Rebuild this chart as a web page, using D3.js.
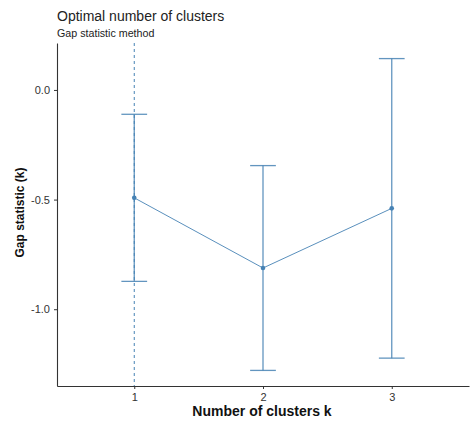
<!DOCTYPE html>
<html>
<head>
<meta charset="utf-8">
<script src="https://cdn.jsdelivr.net/npm/d3@7"></script>
<style>
  html, body { margin: 0; padding: 0; background: #fff; }
  text { font-family: "Liberation Sans", Arial, sans-serif; }
</style>
</head>
<body>
<svg id="chart" width="471" height="423"></svg>
<script>
// Gap statistic per number of clusters, with standard errors
const clusters = [1, 2, 3];
const gap = [-0.492, -0.812, -0.540];
const gapSE = [0.381, 0.467, 0.683];
const optimalK = 1;
const yTicks = [0.0, -0.5, -1.0];

const color = "#4682B4";
const svg = d3.select("#chart");
const m = { left: 57, right: 469, top: 43, bottom: 386 };

const lo = d3.min(gap.map((g, i) => g - gapSE[i]));
const hi = d3.max(gap.map((g, i) => g + gapSE[i]));
const padY = (hi - lo) * 0.05;

const x = d3.scaleLinear().domain([0.4, 3.6]).range([m.left, m.right]);
const y = d3.scaleLinear().domain([lo - padY, hi + padY]).range([m.bottom, m.top]);

// plain hyphen for negative tick labels
const fmt1 = d3.formatLocale({ decimal: ".", thousands: ",", grouping: [3], currency: ["", ""], minus: "-" }).format(".1f");

// vertical marker at the optimal k
svg.append("line")
  .attr("x1", x(optimalK)).attr("x2", x(optimalK))
  .attr("y1", m.top).attr("y2", m.bottom)
  .attr("stroke", color).attr("stroke-width", 1)
  .attr("stroke-dasharray", "3,3");

// error bars
const capW = 0.2 * (x(1) - x(0)) / 2;
const eb = svg.append("g").attr("stroke", color).attr("stroke-opacity", 0.85)
  .attr("stroke-width", 1.3).attr("fill", "none");
clusters.forEach((k, i) => {
  const top = y(gap[i] + gapSE[i]), bot = y(gap[i] - gapSE[i]);
  eb.append("line").attr("x1", x(k)).attr("x2", x(k)).attr("y1", top).attr("y2", bot);
  eb.append("line").attr("x1", x(k) - capW).attr("x2", x(k) + capW).attr("y1", top).attr("y2", top);
  eb.append("line").attr("x1", x(k) - capW).attr("x2", x(k) + capW).attr("y1", bot).attr("y2", bot);
});

// connecting line and points
svg.append("path")
  .datum(clusters.map((k, i) => [k, gap[i]]))
  .attr("d", d3.line().x(d => x(d[0])).y(d => y(d[1])))
  .attr("fill", "none").attr("stroke", color).attr("stroke-width", 0.9);

svg.append("g").selectAll("circle")
  .data(clusters.map((k, i) => [k, gap[i]]))
  .join("circle")
  .attr("cx", d => x(d[0])).attr("cy", d => y(d[1]))
  .attr("r", 2.3).attr("fill", color);

// axes
const yAxis = svg.append("g")
  .attr("transform", `translate(${m.left},0)`)
  .call(d3.axisLeft(y).tickValues(yTicks).tickFormat(fmt1).tickSize(3).tickSizeOuter(0));
const xAxis = svg.append("g")
  .attr("transform", `translate(0,${m.bottom})`)
  .call(d3.axisBottom(x).tickValues(clusters).tickFormat(d3.format("d")).tickSize(3).tickSizeOuter(0));

[yAxis, xAxis].forEach(a => {
  a.select(".domain").attr("stroke", "#333").attr("stroke-width", 1.1);
  a.selectAll(".tick line").attr("stroke", "#333");
  a.selectAll(".tick text").attr("fill", "#333").attr("font-size", 11)
    .attr("font-family", "Liberation Sans, Arial, sans-serif");
});
yAxis.selectAll(".tick text").attr("dx", "-1");
xAxis.selectAll(".tick text").attr("dy", "0.85em");

// titles, aligned with the panel
svg.append("text").attr("x", m.left).attr("y", 20.5)
  .attr("font-size", 14).attr("fill", "#222").text("Optimal number of clusters");
svg.append("text").attr("x", m.left).attr("y", 36.5)
  .attr("font-size", 10.7).attr("fill", "#222").text("Gap statistic method");

svg.append("text")
  .attr("x", (m.left + m.right) / 2 - 1).attr("y", 416)
  .attr("text-anchor", "middle").attr("font-size", 14).attr("font-weight", "bold")
  .attr("fill", "#111").text("Number of clusters k");

svg.append("text")
  .attr("transform", `translate(24,${(m.top + m.bottom) / 2 - 2}) rotate(-90)`)
  .attr("text-anchor", "middle").attr("font-size", 12).attr("font-weight", "bold")
  .attr("fill", "#111").text("Gap statistic (k)");
</script>
</body>
</html>
